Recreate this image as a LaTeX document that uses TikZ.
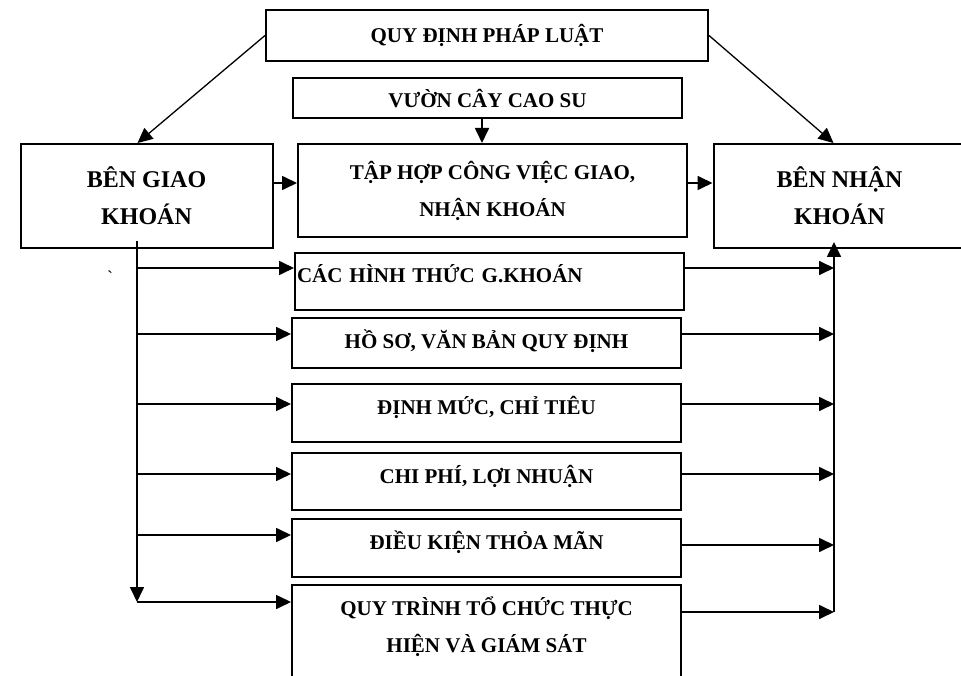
\documentclass[tikz,border=0pt]{standalone}
\usepackage{fontspec}
\setmainfont{Liberation Serif}
\usetikzlibrary{arrows.meta}

\begin{document}
\begin{tikzpicture}[x=1pt, y=-1pt, >={Triangle[length=15pt,width=14pt]},
    box/.style={draw, line width=2pt, inner sep=0pt, align=center,
        font=\bfseries\fontsize{21}{37}\selectfont},
    party/.style={box, minimum width=252pt, minimum height=104pt,
        font=\bfseries\fontsize{24}{37}\selectfont},
    item/.style={box, anchor=north west, minimum width=389pt,
        text height=30pt, text depth=27pt},
    link/.style={->, line width=1.7pt}]
    \useasboundingbox (0,0) rectangle (961,676);
    \clip (0,0) rectangle (961,676);

    % Top row
    \node[box, minimum width=442pt, minimum height=51pt] (law) at (487,35.5) {QUY ĐỊNH PHÁP LUẬT};
    \node[box, minimum width=389pt, text height=30pt, text depth=10pt] (garden) at (487.5,98) {VƯỜN CÂY CAO SU};

    % Parties and the work between them
    \node[party] (giao) at (146.5,196) {BÊN GIAO\\KHOÁN};
    \node[box, minimum width=389pt, minimum height=93pt] (tap) at (492.5,190.5) {TẬP HỢP CÔNG VIỆC GIAO,\\NHẬN KHOÁN};
    \node[party] (nhan) at (839.5,196) {BÊN NHẬN\\KHOÁN};

    % Contents of the contract
    \node[item, text width=385pt, align=left, inner xsep=2pt] (hinh) at (294,252) {CÁC HÌNH THỨC G.KHOÁN};
    \node[item, text depth=20pt] (hoso) at (291,317) {HỒ SƠ, VĂN BẢN QUY ĐỊNH};
    \node[item, text depth=28pt] (dinh) at (291,383) {ĐỊNH MỨC, CHỈ TIÊU};
    \node[item] (chi) at (291,452) {CHI PHÍ, LỢI NHUẬN};
    \node[item, text depth=28pt] (dieu) at (291,518) {ĐIỀU KIỆN THỎA MÃN};
    \node[item, text height=67pt, text depth=49pt] (quy) at (291,584) {QUY TRÌNH TỔ CHỨC THỰC\\HIỆN VÀ GIÁM SÁT};
    \node[font=\fontsize{18}{18}\selectfont] (tick) at (110,277) {\textasciigrave};

    % Arrows
    \draw[link, line width=1.3pt] (law.west) -- ([xshift=-9pt]giao.north);
    \draw[link, line width=1.3pt] (law.east) -- ([xshift=-6pt]nhan.north);
    \draw[link] ([xshift=-5.5pt]garden.south) coordinate (g0) -- (g0 |- tap.north);
    \draw[link] ([yshift=13pt]giao.east) coordinate (g1) -- (g1 -| tap.west);
    \draw[link] ([yshift=7.5pt]tap.east) coordinate (t1) -- (t1 -| nhan.west);

    % Trunks on both sides
    \coordinate (lt) at ([xshift=-9.5pt,yshift=8pt]giao.south);
    \coordinate (rt) at ([xshift=-5.5pt]nhan.south);
    \path ([yshift=-18pt]quy.north west) coordinate (qa)
          ([yshift=-28pt]quy.north east) coordinate (qb);
    \draw[link] (lt) -- (lt |- qa);
    \draw[link] (qb -| rt) -- ([yshift=7pt]rt);

    \foreach \n/\l/\r in {hinh/16/16, hoso/17/17, dinh/21/21, chi/22/22, dieu/17/27, quy/18/28} {
        \path ([yshift=-\l pt]\n.north west) coordinate (a)
              ([yshift=-\r pt]\n.north east) coordinate (b);
        \draw[link] (a -| lt) -- (a);
        \draw[link] (b) -- (b -| rt);
    }
\end{tikzpicture}
\end{document}
